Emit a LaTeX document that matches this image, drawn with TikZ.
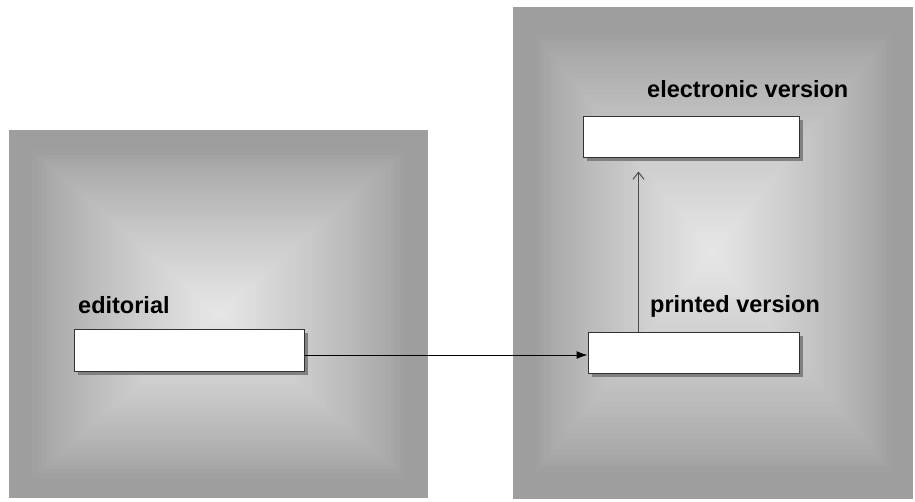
\documentclass[tikz,border=0pt]{standalone}
\usepackage{fontspec}
\setmainfont{Liberation Sans}
\usetikzlibrary{arrows.meta,shadows}
\definecolor{pdark}{RGB}{158,158,158}
\definecolor{plight}{RGB}{230,230,230}
\definecolor{boxline}{RGB}{50,50,50}
\newcommand\shadepanel[4]{%
  \foreach \i in {0,...,44}{%
    \pgfmathsetmacro\s{1-\i/45}%
    \pgfmathsetmacro\p{100*(max(0,(\i/44-0.1)/0.9))^0.8}%
    \pgfmathsetmacro\cx{(#1+#3)/2}%
    \pgfmathsetmacro\cy{(#2+#4)/2}%
    \pgfmathsetmacro\hw{(#3-#1)/2*\s}%
    \pgfmathsetmacro\hh{(#4-#2)/2*\s}%
    \fill[plight!\p!pdark] (\cx-\hw,\cy-\hh) rectangle (\cx+\hw,\cy+\hh);
  }%
}
\tikzset{
  wbox/.style={draw=boxline, fill=white, line width=1pt, inner sep=0pt,
    general shadow={fill=black!50, shadow xshift=4pt, shadow yshift=-4pt}},
  lbl/.style={anchor=base west, inner sep=0pt, font=\fontsize{23.5}{28}\selectfont\bfseries}
}
\begin{document}
\begin{tikzpicture}[x=1pt,y=-1pt]
\useasboundingbox (0,0) rectangle (915,501);
\fill[white] (0,0) rectangle (915,501);
\shadepanel{9}{130}{428}{498}
\shadepanel{513}{7}{913}{499}
\node[wbox, minimum width=230pt, minimum height=42pt] (edit) at (189,350) {};
\node[wbox, minimum width=216pt, minimum height=41pt] (elec) at (691,136.5) {};
\node[wbox, minimum width=211pt, minimum height=41pt] (print) at (693.5,352.5) {};
\node[lbl] (tedit) at (78,313) {editorial};
\node[lbl] (tprint) at (650,312) {printed version};
\node[lbl] (telec) at (647,97) {electronic version};
\draw[black, line width=1pt, -{Latex[length=11pt,width=8pt]}]
  ([yshift=-5pt]edit.east) -- ([yshift=-5pt]edit.east -| print.west);
\draw[black!70, line width=1pt, shorten >=14pt, -{Straight Barb[length=7pt,width=11pt]}]
  ([xshift=51pt]print.north west) -- ([xshift=51pt]print.north west |- elec.south);
\end{tikzpicture}
\end{document}
